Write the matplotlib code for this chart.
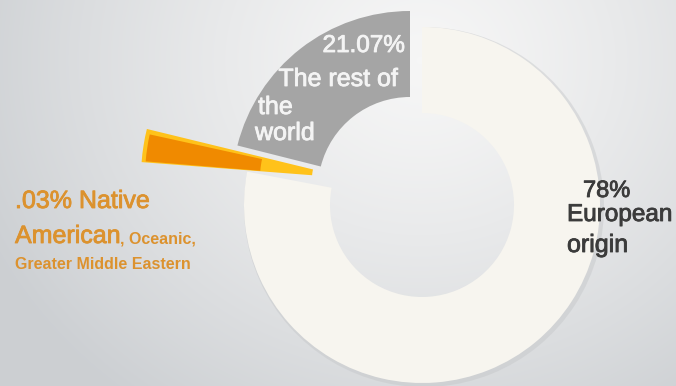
import numpy as np
import matplotlib
matplotlib.use("Agg")
import matplotlib.pyplot as plt
import matplotlib.patheffects as pe
from matplotlib.patches import Wedge

# shares shown on the chart (percent)
european_share = 78
rest_share = 21.07
native_share = 0.03

cream = "#f7f5ef"
grey = "#a5a5a5"
orange = "#f08a00"
yellow = "#ffc21a"
label_orange = "#dc922e"

plt.rcParams["font.family"] = ["Liberation Sans", "DejaVu Sans"]

W, H = 676, 386
fig = plt.figure(figsize=(W / 100, H / 100), dpi=100)
ax = fig.add_axes([0, 0, 1, 1])

# soft radial background, light near the top middle, greyer at the corners
yy, xx = np.mgrid[0:H, 0:W]
d = np.hypot((xx - 420) / 480, (yy - 60) / 430)
t = np.clip(d, 0, 1) ** 1.3
c0 = np.array([0.965, 0.965, 0.965])
c1 = np.array([0.80, 0.812, 0.825])
bg = c0 + (c1 - c0) * t[..., None]
ax.imshow(bg, extent=(0, W, 0, H), origin="upper", zorder=0)

R = 178
ring = 86
cx, cy = 422, 181

# faint shadow along the outside of the cream ring
ax.pie([european_share, 100 - european_share], radius=R + 2, center=(cx + 2, cy - 2),
       startangle=90, counterclock=False, colors=["#c4c6c8", "none"],
       wedgeprops=dict(width=6, linewidth=0, alpha=0.45))

# European origin ring slice, clockwise from 12 o'clock
ax.pie([european_share, 100 - european_share], radius=R, center=(cx, cy),
       startangle=90, counterclock=False, colors=[cream, "none"],
       wedgeprops=dict(width=ring, linewidth=0))

# rest of the world, pulled out slightly
ax.pie([rest_share, 100 - rest_share], radius=R, center=(cx - 12, cy + 16),
       startangle=90, counterclock=True, colors=[grey, "none"],
       wedgeprops=dict(width=ring, linewidth=0))

# tiny slice drawn as a long exploded sliver
ax.add_patch(Wedge((348, 208), 207, 166.3, 175.6, width=171,
                   facecolor=yellow, linewidth=0, zorder=3))
ax.add_patch(Wedge((348, 208), 203, 167.6, 175.3, width=115,
                   facecolor=orange, linewidth=0, zorder=3))


def thick(color):
    return [pe.withStroke(linewidth=0.6, foreground=color)]


white = "#f4f4f4"
ax.text(405, 334, f"{rest_share:.2f}%", color=white, fontsize=17.5,
        ha="right", va="baseline", zorder=5, path_effects=thick(white))
ax.text(398, 300, "The rest of", color=white, fontsize=18,
        ha="right", va="baseline", zorder=5, path_effects=thick(white))
ax.text(258, 272, "the", color=white, fontsize=18, va="baseline", zorder=5,
        path_effects=thick(white))
ax.text(255, 246, "world", color=white, fontsize=18, va="baseline", zorder=5,
        path_effects=thick(white))

ax.text(15, 178, f"{native_share:.2f}%".lstrip("0") + " Native", color=label_orange,
        fontsize=18, va="baseline", zorder=5, path_effects=thick(label_orange))
ax.text(15, 143, "American", color=label_orange, fontsize=18, va="baseline", zorder=5,
        path_effects=thick(label_orange))
ax.text(120, 143, ", Oceanic,", color=label_orange, fontsize=11.5, fontweight="bold",
        va="baseline", zorder=5)
ax.text(15, 117, "Greater Middle Eastern", color=label_orange, fontsize=11.5,
        fontweight="bold", va="baseline", zorder=5)

dark = "#3b3b3b"
ax.text(583, 189, f"{european_share}%", color=dark, fontsize=17, va="baseline", zorder=5,
        path_effects=thick(dark))
ax.text(567, 165, "European", color=dark, fontsize=17.5, va="baseline", zorder=5,
        path_effects=thick(dark))
ax.text(567, 134, "origin", color=dark, fontsize=18, va="baseline", zorder=5,
        path_effects=thick(dark))

ax.set_xlim(0, W)
ax.set_ylim(0, H)
ax.set_aspect("auto")
ax.set_axis_off()

fig.savefig("out.png", dpi=100)
